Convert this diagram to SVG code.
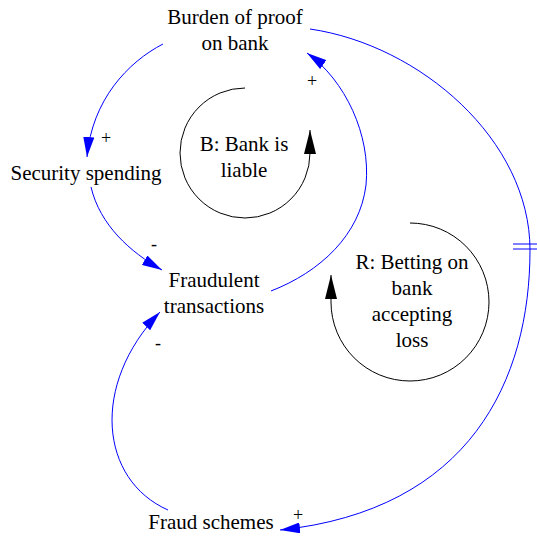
<svg xmlns="http://www.w3.org/2000/svg" width="537" height="541" viewBox="0 0 537 541">
  <style>
    text { fill: #000; }
    .node { font-size: 21px; text-anchor: middle; }
    .pol { font-size: 18px; text-anchor: middle; }
    .link { fill: none; stroke: #0000ff; stroke-width: 1; }
    .loop { fill: none; stroke: #000; stroke-width: 1; }
  </style>
  <defs>
    <marker id="arrowBlue" viewBox="0 0 20 11" refX="20" refY="5.5" markerWidth="20" markerHeight="11" markerUnits="userSpaceOnUse" orient="auto">
      <path d="M0,0 L20,5.5 L0,11 Z" fill="#0000ff"/>
    </marker>
    <marker id="arrowBlack" viewBox="0 0 24 12" refX="24" refY="6" markerWidth="24" markerHeight="12" markerUnits="userSpaceOnUse" orient="auto">
      <path d="M0,0 L24,6 L0,12 Z" fill="#000"/>
    </marker>
  </defs>

  <g font-family="'Liberation Serif', 'DejaVu Serif', serif">
  <!-- causal links -->
  <g id="connectors">
    <!-- Burden of proof -> Security spending -->
    <path class="link" d="M163,44 C128,62 92,100 87,157" marker-end="url(#arrowBlue)"/>
    <!-- Security spending -> Fraudulent transactions -->
    <path class="link" d="M91,187 C100,225 130,252 162,270" marker-end="url(#arrowBlue)"/>
    <!-- Fraudulent transactions -> Burden of proof -->
    <path class="link" d="M271,291 C320,272 360,235 366,185 C371,135 345,80 307,53" marker-end="url(#arrowBlue)"/>
    <!-- Burden of proof -> Fraud schemes (delayed) -->
    <path class="link" d="M310,29 C420,45 530,140 530,250 C530,380 470,510 280,530" marker-end="url(#arrowBlue)"/>
    <!-- delay mark -->
    <path class="link" d="M513,244 H537 M513,249 H537"/>
    <!-- Fraud schemes -> Fraudulent transactions -->
    <path class="link" d="M168,510 C100,480 90,385 160,312" marker-end="url(#arrowBlue)"/>

    <!-- polarities -->
    <text class="pol" x="106" y="144">+</text>
    <text class="pol" x="154" y="250">-</text>
    <text class="pol" x="312" y="87">+</text>
    <text class="pol" x="158" y="349">-</text>
    <text class="pol" x="298" y="521">+</text>

    <!-- loop markers -->
    <path class="loop" d="M245,88 A65,65 0 1 0 310,153 L310,130" marker-end="url(#arrowBlack)"/>
    <path class="loop" d="M410,223 A79,79 0 1 1 331,302 L331,275" marker-end="url(#arrowBlack)"/>
  </g>

  <g id="burden-of-proof">
    <text class="node" x="235" y="24">Burden of proof</text>
    <text class="node" x="235" y="50">on bank</text>
  </g>
  <g id="security-spending">
    <text class="node" x="86" y="180">Security spending</text>
  </g>
  <g id="fraudulent-transactions">
    <text class="node" x="214" y="287">Fraudulent</text>
    <text class="node" x="214" y="313">transactions</text>
  </g>
  <g id="fraud-schemes">
    <text class="node" x="211" y="529">Fraud schemes</text>
  </g>
  <g id="loop-b">
    <text class="node" x="244" y="151">B: Bank is</text>
    <text class="node" x="244" y="177">liable</text>
  </g>
  <g id="loop-r">
    <text class="node" x="412" y="269">R: Betting on</text>
    <text class="node" x="412" y="295">bank</text>
    <text class="node" x="412" y="321">accepting</text>
    <text class="node" x="412" y="347">loss</text>
  </g>
  </g>
</svg>
